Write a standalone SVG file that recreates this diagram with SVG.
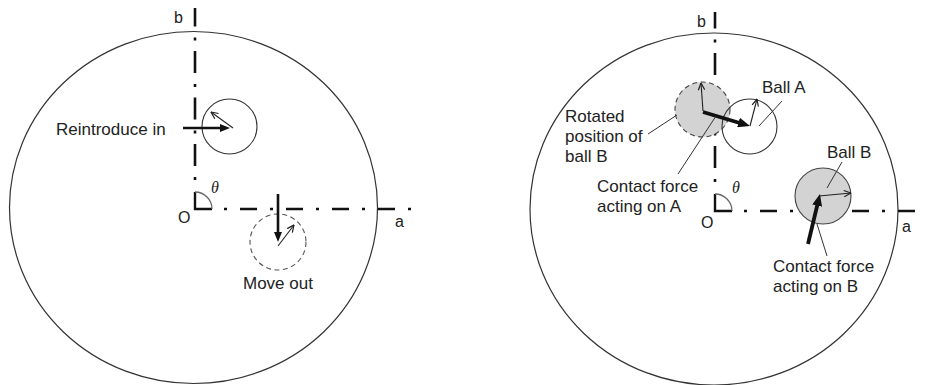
<svg xmlns="http://www.w3.org/2000/svg" width="926" height="385" viewBox="0 0 926 385">
<style>
.outer{fill:none;stroke:#333;stroke-width:1.2}
.axv{stroke:#111;stroke-width:2.6;fill:none;stroke-dasharray:3 11 22 10.5}
.axh{stroke:#111;stroke-width:2.6;fill:none;stroke-dasharray:3 13 17 13}
.axs{stroke:#111;stroke-width:2.6;fill:none}
.ang{stroke:#111;stroke-width:2.4;fill:none}
.arc{stroke:#666;stroke-width:1.3;fill:none}
.ball{fill:none;stroke:#333;stroke-width:1.1}
.gray{fill:#d3d3d3;stroke:#444;stroke-width:1.1}
.dash{stroke-dasharray:5 3.5}
.thick{stroke:#111;stroke-width:2.6;fill:none}
.thicker{stroke:#111;stroke-width:3.8;fill:none}
.thin{stroke:#222;stroke-width:1.1;fill:none}
.lead{stroke:#333;stroke-width:1;fill:none}
text{font-family:"Liberation Sans",Arial,sans-serif;font-size:17px;fill:#222}
.sym{font-size:16px}
.th{font-family:"Liberation Serif","Times New Roman",serif;font-style:italic;font-size:16px}
</style>
<defs>
<marker id="hd" viewBox="0 0 10 8" refX="3" refY="4" markerWidth="10" markerHeight="8" markerUnits="userSpaceOnUse" orient="auto"><path d="M0,0 L10,4 L0,8 z" fill="#111"/></marker>
<marker id="hd2" viewBox="0 0 12 10" refX="4" refY="5" markerWidth="12" markerHeight="10" markerUnits="userSpaceOnUse" orient="auto"><path d="M0,0 L12,5 L0,10 z" fill="#111"/></marker>
<marker id="v" viewBox="0 0 8 8" refX="7.5" refY="4" markerWidth="8" markerHeight="8" markerUnits="userSpaceOnUse" orient="auto"><path d="M0.5,0.8 L7.5,4 L0.5,7.2" fill="none" stroke="#222" stroke-width="1.2"/></marker>
</defs>

<g id="left-diagram">
  <ellipse id="left-container" class="outer" cx="193.5" cy="207.5" rx="184" ry="176"/>
  <g id="left-axes">
    <line class="axv" x1="195" y1="180" x2="195" y2="8"/>
    <line class="axh" x1="224" y1="209" x2="413" y2="209"/>
    <path class="ang" d="M195,192 V209 H212"/>
    <path class="arc" d="M195,192 A17,17 0 0 1 212,209"/>
  </g>
  <g id="left-ball-in"><circle class="ball" cx="229.5" cy="126.5" r="27.5"/></g>
  <g id="left-ball-out"><circle class="ball dash" cx="278" cy="242" r="28" style="stroke:#555"/></g>
  <g id="left-labels">
    <text class="sym" x="174" y="23">b</text>
    <text class="sym" x="178" y="223">O</text>
    <text class="sym" x="395" y="227">a</text>
    <text class="th" x="215" y="193" text-anchor="middle">θ</text>
    <text x="56" y="135">Reintroduce in</text>
    <text x="243" y="289">Move out</text>
  </g>
</g>

<g id="right-diagram">
  <ellipse id="right-container" class="outer" cx="714" cy="209" rx="184" ry="176"/>
  <g id="right-axes">
    <line class="axv" x1="715" y1="182" x2="715" y2="12"/>
    <line class="axh" x1="744" y1="211" x2="926" y2="211"/>
    <path class="ang" d="M715,194 V211 H732"/>
    <path class="arc" d="M715,194 A17,17 0 0 1 732,211"/>
  </g>
  <g id="rotated-ball-b"><circle class="gray dash" cx="702.5" cy="109.5" r="27.5"/></g>
  <g id="ball-a"><circle class="ball" cx="749.5" cy="126.5" r="27.5"/></g>
  <g id="ball-b"><circle class="gray" cx="823" cy="196" r="28"/></g>
  <g id="right-labels">
    <text class="sym" x="697" y="27">b</text>
    <text class="sym" x="701" y="228">O</text>
    <text class="sym" x="902" y="232">a</text>
    <text class="th" x="736" y="193" text-anchor="middle">θ</text>
    <text x="565" y="122">Rotated</text>
    <text x="565" y="142">position of</text>
    <text x="565" y="162">ball B</text>
    <text x="597" y="192">Contact force</text>
    <text x="597" y="212">acting on A</text>
    <text x="762" y="93">Ball A</text>
    <text x="827" y="158">Ball B</text>
    <text x="773" y="272">Contact force</text>
    <text x="773" y="292">acting on B</text>
  </g>
</g>

<g id="connectors">
  <line class="thick" x1="183" y1="128" x2="223" y2="128" marker-end="url(#hd)"/>
  <line class="thin" x1="233" y1="128" x2="211" y2="112" marker-end="url(#v)"/>
  <line class="thick" x1="278" y1="194" x2="278" y2="235" marker-end="url(#hd)"/>
  <line class="thin" x1="278" y1="246" x2="294" y2="225" marker-end="url(#v)"/>

  <line class="thin" x1="703" y1="111" x2="701" y2="83" marker-end="url(#v)"/>
  <line class="thicker" x1="703" y1="112" x2="742.3" y2="123.7" marker-end="url(#hd2)"/>
  <line class="thin" x1="750" y1="126" x2="757" y2="99" marker-end="url(#v)"/>
  <line class="thin" x1="819" y1="196" x2="851" y2="193" marker-end="url(#v)"/>
  <line class="thicker" x1="808" y1="244" x2="818.1" y2="201.8" marker-end="url(#hd2)"/>

  <line class="lead" x1="782" y1="101" x2="759" y2="126"/>
  <line class="lead" x1="842" y1="162" x2="827" y2="188"/>
  <line class="lead" x1="648" y1="134" x2="677" y2="115"/>
  <line class="lead" x1="678" y1="174" x2="716" y2="116"/>
  <line class="lead" x1="827" y1="256" x2="817" y2="224"/>
</g>
</svg>
